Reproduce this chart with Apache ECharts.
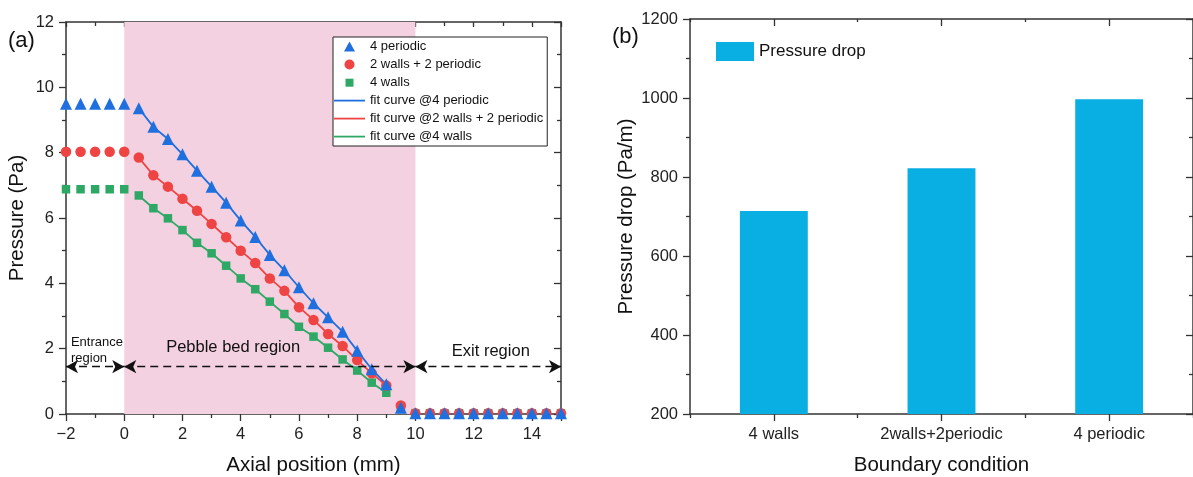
<!DOCTYPE html>
<html><head><meta charset="utf-8">
<script src="https://cdn.jsdelivr.net/npm/echarts@6/dist/echarts.min.js"></script>
<style>html,body{margin:0;padding:0;background:#fff}#c{width:1193px;height:477px}</style>
</head><body><div id="c"></div>
<script>
// ---------- DATA ----------
const axialPos = [-2,-1.5,-1,-0.5,0,0.5,1,1.5,2,2.5,3,3.5,4,4.5,5,5.5,6,6.5,7,7.5,8,8.5,9,9.5,10,10.5,11,11.5,12,12.5,13,13.5,14,14.5,15];
const p4periodic = [9.5,9.5,9.5,9.5,9.5, 9.36,8.79,8.42,7.95,7.45,6.96,6.47,5.92,5.42,4.87,4.40,3.88,3.39,2.96,2.52,1.94,1.37,0.91, 0.19, 0.02,0.02,0.02,0.02,0.02,0.02,0.02,0.02,0.02,0.02,0.02];
const p2walls2periodic = [8.03,8.03,8.03,8.03,8.03, 7.85,7.31,6.96,6.59,6.22,5.82,5.41,5.00,4.62,4.15,3.77,3.27,2.88,2.45,2.08,1.65,1.25,0.87, 0.26, 0.02,0.02,0.02,0.02,0.02,0.02,0.02,0.02,0.02,0.02,0.02];
const p4walls = [6.88,6.88,6.88,6.88,6.88, 6.69,6.30,5.99,5.63,5.24,4.92,4.54,4.15,3.82,3.44,3.06,2.67,2.37,2.03,1.67,1.33,0.96,0.65, 0.15, 0.02,0.02,0.02,0.02,0.02,0.02,0.02,0.02,0.02,0.02,0.02];
const fitRange = [0.5, 9];
const seriesNames = ['4 periodic', '2 walls + 2 periodic', '4 walls'];
const fitNames = ['fit curve @4 periodic', 'fit curve @2 walls + 2 periodic', 'fit curve @4 walls'];
const bcCategories = ['4 walls', '2walls+2periodic', '4 periodic'];
const pressureDrop = [714, 822, 997];
const barName = 'Pressure drop';

// ---------- STYLE ----------
const FONT = "'Liberation Sans', Arial, sans-serif";
const AX = '#333';
const BLUE = '#1f6fdf', RED = '#ee4444', GREEN = '#2fa866';
const BAR = '#09aee3';
const PINK = '#f3d1e0';
// legend icons padded inside a 31x11 box
const BOX = 'M0,0 M31,11 ';
const ICON_TRI = 'path://' + BOX + 'M10,10.5 L15.5,0.5 L21,10.5 Z';
const ICON_CIR = 'path://' + BOX + 'M10.5,5.5 A5,5 0 1,1 20.5,5.5 A5,5 0 1,1 10.5,5.5 Z';
const ICON_SQ = 'path://' + BOX + 'M11.5,1.7 L19.5,1.7 L19.5,9.7 L11.5,9.7 Z';
const ICON_LINE = 'path://' + BOX + 'M0,4.7 L31,4.7 L31,6.5 L0,6.5 Z';

const pts = arr => axialPos.map((x, i) => [x, arr[i]]);
const fit = arr => axialPos.map((x, i) => [x, arr[i]]).filter(d => d[0] >= fitRange[0] && d[0] <= fitRange[1]);
const minus = v => String(v).replace('-', '\u2212');

const axLine = {show: true, onZero: false, lineStyle: {color: AX, width: 1.5}};
const tk = (inside, len) => ({show: true, inside: inside, length: len, lineStyle: {color: AX, width: 1.3}});
const mtk = (len) => ({show: true, splitNumber: 2, length: len, lineStyle: {color: AX, width: 1.3}});
function valAxisBase(extra) {
  return Object.assign({
    type: 'value', splitLine: {show: false}, axisLine: axLine,
    nameTextStyle: {fontFamily: FONT, fontSize: 20.5, color: '#111'},
  }, extra);
}
const lbl = extra => Object.assign({fontFamily: FONT, fontSize: 16.5, color: '#222', margin: 12}, extra);

const chart = echarts.init(document.getElementById('c'), null, {renderer: 'canvas'});

const option = {
  animation: false,
  backgroundColor: '#fff',
  grid: [
    {left: 66, top: 22, width: 495, height: 392, containLabel: false, outerBoundsMode: 'none'},
    {left: 690, top: 19, right: 0, height: 395, containLabel: false, outerBoundsMode: 'none'}
  ],
  xAxis: [
    valAxisBase({gridIndex: 0, position: 'bottom', min: -2, max: 15, interval: 2,
      name: 'Axial position (mm)', nameLocation: 'middle', nameGap: 41,
      axisTick: tk(false, 7), minorTick: mtk(4),
      axisLabel: lbl({formatter: minus, showMaxLabel: false})}),
    valAxisBase({gridIndex: 0, position: 'top', min: -2, max: 15, interval: 2,
      axisTick: tk(true, 5), minorTick: mtk(4), axisLabel: {show: false}}),
    {type: 'category', gridIndex: 1, position: 'bottom', data: bcCategories,
      name: 'Boundary condition', nameLocation: 'middle', nameGap: 41,
      nameTextStyle: {fontFamily: FONT, fontSize: 20.5, color: '#111'},
      axisLine: axLine,
      axisTick: Object.assign(tk(false, 7), {alignWithLabel: true}),
      axisLabel: lbl({})},
    {type: 'category', gridIndex: 1, position: 'bottom', data: bcCategories,
      axisLine: {show: false, onZero: false},
      axisTick: Object.assign(tk(false, 4), {alignWithLabel: false}),
      axisLabel: {show: false}},
    {type: 'category', gridIndex: 1, position: 'top', data: bcCategories,
      axisLine: axLine,
      axisTick: Object.assign(tk(true, 7), {alignWithLabel: true}),
      axisLabel: {show: false}},
    {type: 'category', gridIndex: 1, position: 'top', data: bcCategories,
      axisLine: {show: false, onZero: false},
      axisTick: Object.assign(tk(true, 3), {alignWithLabel: false}),
      axisLabel: {show: false}}
  ],
  yAxis: [
    valAxisBase({gridIndex: 0, position: 'left', min: 0, max: 12, interval: 2,
      name: 'Pressure (Pa)', nameLocation: 'middle', nameGap: 38,
      axisTick: tk(false, 7), minorTick: mtk(4), axisLabel: lbl({})}),
    valAxisBase({gridIndex: 0, position: 'right', min: 0, max: 12, interval: 2,
      axisTick: tk(true, 7), minorTick: mtk(4), axisLabel: {show: false}}),
    valAxisBase({gridIndex: 1, position: 'left', min: 200, max: 1200, interval: 200,
      name: 'Pressure drop (Pa/m)', nameLocation: 'middle', nameGap: 53,
      axisTick: tk(false, 7), minorTick: mtk(4), axisLabel: lbl({formatter: v => String(v)})}),
    valAxisBase({gridIndex: 1, position: 'right', min: 200, max: 1200, interval: 200,
      axisTick: tk(true, 7), minorTick: mtk(4), axisLabel: {show: false}})
  ],
  legend: [
    {data: [
        {name: seriesNames[0], icon: ICON_TRI},
        {name: seriesNames[1], icon: ICON_CIR},
        {name: seriesNames[2], icon: ICON_SQ},
        {name: fitNames[0], icon: ICON_LINE},
        {name: fitNames[1], icon: ICON_LINE},
        {name: fitNames[2], icon: ICON_LINE}
      ],
      orient: 'vertical', left: 333, top: 37,
      itemWidth: 31, itemHeight: 11, itemGap: 5, padding: [3, 4, 3, 1],
      backgroundColor: '#fff', borderColor: '#222', borderWidth: 1, borderRadius: 0,
      textStyle: {fontFamily: FONT, fontSize: 13, color: '#111'}, selectedMode: false},
    {data: [barName], left: 716, top: 42, itemWidth: 38, itemHeight: 19, padding: 0,
      icon: 'rect', textStyle: {fontFamily: FONT, fontSize: 17, color: '#111'}, selectedMode: false}
  ],
  graphic: [
    {type: 'text', left: 8, top: 30, style: {text: '(a)', font: '22px ' + FONT, fill: '#111'}},
    {type: 'text', left: 612, top: 26, style: {text: '(b)', font: '22px ' + FONT, fill: '#111'}}
  ],
  series: [
    {name: 'region', type: 'scatter', xAxisIndex: 0, yAxisIndex: 0, data: [], z: 1, silent: true,
      markArea: {silent: true, itemStyle: {color: PINK}, data: [[{xAxis: 0}, {xAxis: 10}]]}},
    {name: 'regionArrows', type: 'scatter', xAxisIndex: 0, yAxisIndex: 0, data: [], z: 2, silent: true,
      markLine: {silent: true, symbol: ['arrow', 'arrow'], symbolSize: [10, 12],
        lineStyle: {color: '#111', width: 1.4, type: [8, 5]}, label: {show: false},
        emphasis: {disabled: true},
        data: [
          [{coord: [-2, 1.45]}, {coord: [0, 1.45]}],
          [{coord: [0, 1.45]}, {coord: [10, 1.45]}],
          [{coord: [10, 1.45]}, {coord: [15, 1.45]}]
        ]},
      markPoint: {silent: true, symbol: 'rect', symbolSize: 1, itemStyle: {color: 'rgba(0,0,0,0)'},
        label: {show: true, position: 'inside', color: '#111', fontFamily: FONT},
        data: [
          {coord: [-1.83, 1.95], label: {formatter: 'Entrance\nregion', align: 'left', fontSize: 13, lineHeight: 16}},
          {coord: [3.74, 2.04], label: {formatter: 'Pebble bed region', fontSize: 16.5}},
          {coord: [12.59, 1.93], label: {formatter: 'Exit region', fontSize: 16.5}}
        ]}},
    {name: fitNames[2], type: 'line', xAxisIndex: 0, yAxisIndex: 0, data: fit(p4walls), symbol: 'none', z: 3,
      lineStyle: {color: GREEN, width: 1.8}, itemStyle: {color: GREEN}},
    {name: fitNames[1], type: 'line', xAxisIndex: 0, yAxisIndex: 0, data: fit(p2walls2periodic), symbol: 'none', z: 3,
      lineStyle: {color: RED, width: 1.8}, itemStyle: {color: RED}},
    {name: fitNames[0], type: 'line', xAxisIndex: 0, yAxisIndex: 0, data: fit(p4periodic), symbol: 'none', z: 3,
      lineStyle: {color: BLUE, width: 1.8}, itemStyle: {color: BLUE}},
    {name: seriesNames[2], type: 'scatter', xAxisIndex: 0, yAxisIndex: 0, data: pts(p4walls), symbol: 'rect', symbolSize: 8.5, z: 4,
      itemStyle: {color: GREEN, opacity: 1}},
    {name: seriesNames[1], type: 'scatter', xAxisIndex: 0, yAxisIndex: 0, data: pts(p2walls2periodic), symbol: 'circle', symbolSize: 10.5, z: 4,
      itemStyle: {color: RED, opacity: 1}},
    {name: seriesNames[0], type: 'scatter', xAxisIndex: 0, yAxisIndex: 0, data: pts(p4periodic), symbol: 'triangle', symbolSize: 12, z: 4,
      itemStyle: {color: BLUE, opacity: 1}},
    {name: barName, type: 'bar', xAxisIndex: 2, yAxisIndex: 2, data: pressureDrop, barWidth: '40.5%',
      itemStyle: {color: BAR}}
  ]
};
chart.setOption(option);
</script></body></html>
